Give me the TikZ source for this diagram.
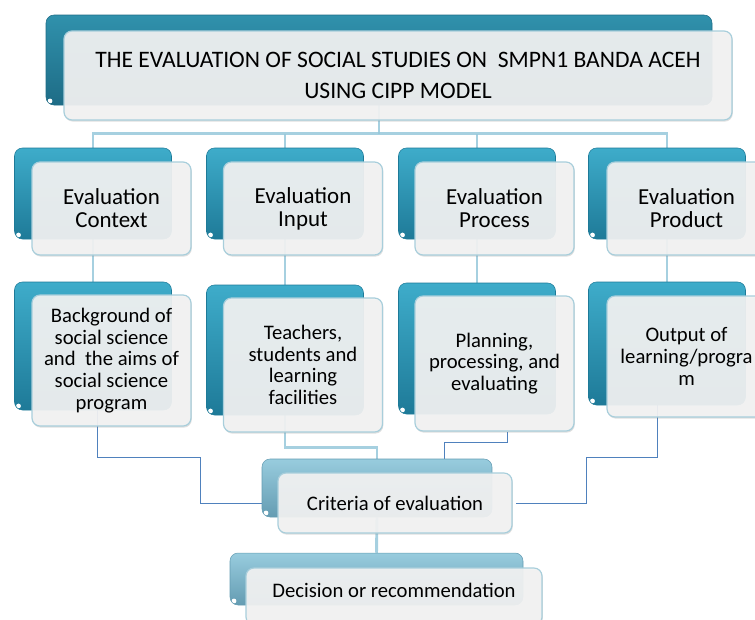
\documentclass[tikz,border=0pt]{standalone}
\usepackage{fontspec}
\setmainfont{Carlito}
\usetikzlibrary{calc,backgrounds,shadows}

\definecolor{tealdark}{RGB}{30,108,134}
\definecolor{tealmid}{RGB}{48,145,172}
\definecolor{cyanbox}{RGB}{62,172,202}
\definecolor{cyandark}{RGB}{30,122,152}
\definecolor{paleblue}{RGB}{152,204,222}
\definecolor{palebluedark}{RGB}{100,156,178}
\definecolor{glass}{RGB}{243,243,243}
\definecolor{glassrim}{RGB}{168,206,219}
\definecolor{linkblue}{RGB}{150,200,218}
\definecolor{wireblue}{RGB}{79,129,189}

\begin{document}
\begin{tikzpicture}[x=0.75pt, y=-0.75pt,
    backbox/.style 2 args={rectangle, rounded corners=6pt, inner sep=0pt,
        top color=#1, bottom color=#2, draw=#2, line width=0.4pt,
        path picture={\fill[white] ([xshift=3pt,yshift=3pt]path picture bounding box.south west) circle (1.8pt);}},
    frontbox/.style={rectangle, rounded corners=6pt, inner sep=2pt,
        fill=glass, fill opacity=0.92, text opacity=1, draw=glassrim, line width=0.9pt,
        align=center, font=\fontsize{15.5}{16.2}\selectfont,
        drop shadow={opacity=0.25, shadow xshift=0.6pt, shadow yshift=-1.2pt}},
    headbg/.style={backbox={cyanbox}{cyandark}, minimum width=117.75pt, minimum height=68.25pt},
    head/.style={frontbox, minimum width=119.25pt, minimum height=69.75pt,
        font=\fontsize{17.2}{17.2}\selectfont},
    itembg/.style={backbox={cyanbox}{cyandark}, minimum width=117.75pt},
    item/.style={frontbox, minimum width=119.25pt},
    stagebg/.style={backbox={paleblue}{palebluedark}},
    link/.style={linkblue, line width=2.2pt, opacity=0.85},
    wire/.style={wireblue, line width=0.75pt}
]
    \useasboundingbox (0,0) rectangle (755,619);
    \clip (0,0) rectangle (755,619);

    % Title
    \node[backbox={tealmid}{tealdark}, minimum width=499.5pt, minimum height=67.5pt] (titlebg) at (379,60) {};
    \node[frontbox, minimum width=501pt, minimum height=66.75pt, font=\fontsize{17.7}{23}\selectfont] (title) at (398,75.5)
        {THE EVALUATION OF SOCIAL STUDIES ON\ \ SMPN1 BANDA ACEH\\USING CIPP MODEL};

    % CIPP heads
    \node[headbg] (ctxbg) at (93,193.5) {};
    \node[head] (ctx) at (111.5,208.5) {Evaluation\\Context};
    \node[headbg] (inpbg) at (285,193.5) {};
    \node[head] (inp) at (303,208.5) {Evaluation\\Input};
    \node[headbg] (prcbg) at (477,193.5) {};
    \node[head] (prc) at (494.5,208.5) {Evaluation\\Process};
    \node[headbg] (prdbg) at (667,193.5) {};
    \node[head] (prd) at (686.5,208.5) {Evaluation\\Product};

    % What each component looks at
    \node[itembg, minimum height=96pt] (ctxitembg) at (93,346) {};
    \node[item, minimum height=98.25pt] (ctxitem) at (111.5,360.5)
        {Background of\\social science\\and\ \ the aims of\\social science\\program};
    \node[itembg, minimum height=97.5pt] (inpitembg) at (285,350) {};
    \node[item, minimum height=100.5pt] (inpitem) at (303,365)
        {Teachers,\\students and\\learning\\facilities};
    \node[itembg, minimum height=98.25pt] (prcitembg) at (477,348.5) {};
    \node[item, minimum height=101.25pt] (prcitem) at (494.5,363.5)
        {Planning,\\processing, and\\evaluating};
    \node[itembg, minimum height=92.25pt] (prditembg) at (667,343.5) {};
    \node[item, minimum height=90.75pt] (prditem) at (686.5,356.5)
        {Output of\\learning/progra\\m};

    % Criteria and decision
    \node[stagebg, minimum width=172.5pt, minimum height=43.5pt] (critbg) at (377,488) {};
    \node[frontbox, minimum width=175.5pt, minimum height=45pt] (crit) at (395,503) {Criteria of evaluation};
    \node[stagebg, minimum width=219.75pt, minimum height=39pt] (decbg) at (376.5,579) {};
    \node[frontbox, minimum width=222pt, minimum height=42.75pt, text depth=9pt] (dec) at (394,596.5) {Decision or recommendation};

    % Connectors
    \begin{scope}[on background layer]
        \draw[link] (titlebg.south) -- ++(0,29);
        \draw[link] (ctxbg.north) -- ++(0,-14) -| (prdbg.north);
        \draw[link] (inpbg.north) -- ++(0,-14);
        \draw[link] (prcbg.north) -- ++(0,-14);
        \draw[link] (ctxbg.south) -- (ctxitembg.north);
        \draw[link] (inpbg.south) -- (inpitembg.north);
        \draw[link] (prcbg.south) -- (prcitembg.north);
        \draw[link] (prdbg.south) -- (prditembg.north);
        \draw[link] (inpitembg.south) -- ++(0,32) -| (critbg.north);
        \draw[link] (critbg.south) -- (decbg.north);

        \draw[wire] ($(ctxitembg.south)+(4,0)$) |- (200,457) |- (critbg.west |- crit);
        \draw[wire] ($(prcitem.south)+(13,0)$) -- ++(0,11) -| ($(critbg.north)+(67,0)$);
        \draw[wire] ($(prditembg.south)+(-10,0)$) |- (586,457) |- ($(crit.east)+(3,0)$);
    \end{scope}
\end{tikzpicture}
\end{document}
